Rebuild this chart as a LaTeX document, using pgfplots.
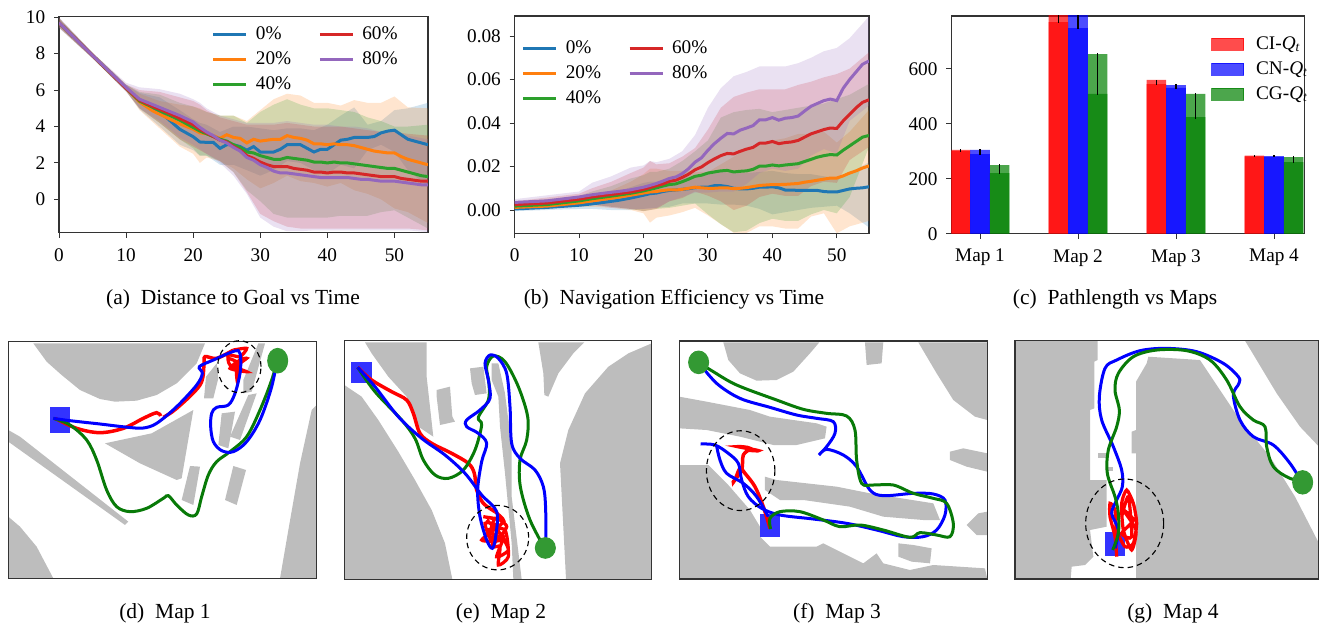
\documentclass[border=0pt]{standalone}
\usepackage{pgfplots}
\usepackage{pgfplotstable}
\usepackage{fontspec}
\setmainfont{Liberation Serif}
\pgfplotsset{compat=1.18}
\definecolor{c0}{HTML}{1F77B4}
\definecolor{c1}{HTML}{FF7F0E}
\definecolor{c2}{HTML}{2CA02C}
\definecolor{c3}{HTML}{D62728}
\definecolor{c4}{HTML}{9467BD}
\definecolor{mapgray}{HTML}{BDBDBD}
\definecolor{framec}{HTML}{333333}
\definecolor{tg}{HTML}{087A08}
\definecolor{goalc}{HTML}{339933}
\newcommand{\tf}{\fontsize{7.7}{9}\selectfont}
\newcommand{\cf}{\fontsize{8.6}{10}\selectfont}
\newcommand{\Qt}{\textit{Q}\textsubscript{\textit{t}}}

\pgfplotstableread{
t m0 m1 m2 m3 m4
0 9.7 9.7 9.7 9.7 9.7
5 7.9 7.9 7.9 7.9 7.9
10 6.1 6.1 6.1 6.1 6.15
12 5.4 5.35 5.4 5.45 5.5
14 5.0 4.85 5.05 5.1 5.2
16 4.5 4.5 4.7 4.8 4.9
18 3.85 4.15 4.35 4.45 4.6
20 3.44 3.85 3.95 4.1 4.25
21 3.15 3.65 3.75 3.85 3.95
22 3.13 3.6 3.6 3.65 3.7
23 3.13 3.5 3.45 3.45 3.5
24 2.8 3.35 3.3 3.25 3.25
25 3.0 3.55 3.2 3.15 3.1
26 3.0 3.4 3.0 2.9 2.85
27 2.9 3.35 2.85 2.7 2.65
28 2.7 3.1 2.6 2.4 2.3
29 2.9 3.3 2.55 2.25 2.15
30 2.6 3.2 2.4 2.05 1.9
31 2.6 3.25 2.3 1.9 1.75
32 2.6 3.3 2.2 1.8 1.55
33 2.75 3.3 2.2 1.8 1.45
34 3.0 3.5 2.3 1.8 1.45
35 3.0 3.4 2.25 1.7 1.4
36 3.0 3.35 2.2 1.65 1.35
37 2.8 3.25 2.15 1.6 1.3
38 2.6 3.05 2.05 1.5 1.25
39 2.75 3.05 2.05 1.5 1.2
40 2.75 3.0 2.0 1.45 1.2
41 3.0 3.05 2.05 1.5 1.2
42 3.25 3.0 2.0 1.5 1.2
43 3.3 3.0 2.0 1.45 1.2
44 3.4 2.95 1.95 1.45 1.15
45 3.4 2.85 1.9 1.4 1.1
46 3.4 2.75 1.85 1.35 1.1
47 3.45 2.65 1.8 1.3 1.05
48 3.65 2.6 1.75 1.25 1.0
49 3.75 2.55 1.7 1.25 1.0
50 3.8 2.55 1.7 1.25 1.0
51 3.55 2.35 1.6 1.15 0.95
52 3.3 2.2 1.5 1.1 0.9
53 3.2 2.1 1.4 1.05 0.85
54 3.1 2.0 1.3 1.0 0.8
55 3.0 1.9 1.25 1.0 0.8
}\mainA

\pgfplotstableread{
t l0 h0 l1 h1 l2 h2 l3 h3 l4 h4
0 9.45 9.95 9.45 9.95 9.45 9.95 9.45 9.95 9.4 10.0
5 7.75 8.05 7.75 8.05 7.75 8.05 7.75 8.05 7.75 8.05
10 5.95 6.3 5.95 6.3 5.95 6.3 5.95 6.3 5.9 6.4
12 4.95 5.85 4.9 5.8 5.0 5.9 5.0 6.0 5.0 6.15
15 4.0 5.6 3.9 5.4 4.2 5.75 4.2 5.9 4.3 6.05
18 3.0 4.9 2.9 5.2 3.3 5.3 3.3 5.6 3.4 5.8
20 2.7 4.4 2.5 5.1 2.8 5.1 2.9 5.4 3.0 5.5
21 2.4 4.2 2.0 5.0 2.4 4.95 2.7 5.2 2.75 5.3
22 2.4 4.1 2.3 4.8 2.4 4.8 2.5 4.9 2.5 5.0
24 1.9 3.7 2.1 4.6 2.1 4.6 2.1 4.5 2.0 4.6
26 1.9 4.0 1.7 4.6 1.5 4.6 1.5 4.3 1.3 4.4
28 1.6 4.0 1.1 4.3 0.5 4.2 0.4 4.1 0.3 4.2
30 1.3 3.9 0.6 4.9 -0.1 4.8 -0.8 4.1 -1.0 4.2
32 1.6 3.8 0.9 5.5 -0.8 5.2 -1.2 4.1 -1.5 4.2
34 2.1 3.9 1.3 5.8 -1.0 5.5 -1.5 4.2 -1.75 4.3
36 2.0 3.9 1.0 5.7 -1.0 5.2 -1.6 4.1 -1.75 4.2
38 1.6 3.8 0.9 5.3 -1.0 5.0 -1.6 4.0 -1.7 4.1
40 1.4 4.1 0.7 5.3 -1.0 5.0 -1.6 4.0 -1.7 4.1
42 1.9 4.6 0.9 5.15 -0.9 4.9 -1.6 4.0 -1.7 4.0
44 1.7 5.05 0.5 5.45 -0.9 4.8 -1.6 3.9 -1.7 4.0
46 2.7 4.1 0.3 5.3 -0.9 4.5 -1.6 3.8 -1.7 3.9
48 3.0 4.3 0.0 5.3 -0.7 4.3 -1.6 3.7 -1.7 3.7
50 2.6 4.9 -0.5 5.65 -0.6 4.0 -1.6 3.7 -1.7 3.7
52 1.6 5.0 -0.7 5.05 -1.0 4.0 -1.6 3.6 -1.7 3.5
55 0.7 5.3 -1.3 5.0 -1.6 4.1 -1.7 3.5 -1.8 3.3
}\bandA

\pgfplotstableread{
t m0 m1 m2 m3 m4
0 0.0005 0.0012 0.0018 0.0025 0.0035
5 0.0012 0.0018 0.0025 0.0032 0.0042
10 0.0022 0.0033 0.0042 0.0050 0.0060
12 0.0028 0.0042 0.0052 0.0060 0.0070
14 0.0036 0.0050 0.0060 0.0068 0.0078
16 0.0044 0.0058 0.0068 0.0075 0.0085
18 0.0055 0.0068 0.0077 0.0083 0.0093
20 0.0068 0.0078 0.0088 0.0095 0.0105
21 0.0075 0.0083 0.0095 0.0103 0.0113
22 0.0078 0.0085 0.0102 0.0112 0.0122
23 0.0085 0.0090 0.0110 0.0120 0.0133
24 0.0090 0.0093 0.0117 0.0132 0.0145
25 0.0092 0.0092 0.0120 0.0137 0.0152
26 0.0095 0.0095 0.0130 0.0150 0.0167
27 0.0098 0.0100 0.0142 0.0165 0.0190
28 0.0103 0.0105 0.0155 0.0185 0.0220
29 0.0105 0.0102 0.0160 0.0198 0.0240
30 0.0105 0.0100 0.0170 0.0218 0.0275
31 0.0112 0.0100 0.0175 0.0235 0.0305
32 0.0112 0.0102 0.0180 0.0250 0.0330
33 0.0108 0.0102 0.0182 0.0260 0.0352
34 0.0100 0.0098 0.0175 0.0258 0.0350
35 0.0097 0.0100 0.0178 0.0270 0.0367
36 0.0097 0.0103 0.0180 0.0280 0.0377
37 0.0100 0.0108 0.0187 0.0288 0.0388
38 0.0105 0.0113 0.0202 0.0307 0.0415
39 0.0105 0.0115 0.0202 0.0308 0.0415
40 0.0107 0.0117 0.0207 0.0315 0.0425
41 0.0102 0.0117 0.0203 0.0305 0.0413
42 0.0092 0.0118 0.0207 0.0310 0.0422
43 0.0092 0.0120 0.0210 0.0313 0.0425
44 0.0090 0.0122 0.0213 0.0320 0.0432
45 0.0090 0.0128 0.0223 0.0335 0.0455
46 0.0090 0.0132 0.0233 0.0350 0.0477
47 0.0090 0.0137 0.0243 0.0360 0.0490
48 0.0085 0.0142 0.0250 0.0370 0.0503
49 0.0083 0.0147 0.0255 0.0377 0.0510
50 0.0083 0.0147 0.0253 0.0375 0.0503
51 0.0090 0.0157 0.0275 0.0410 0.0560
52 0.0097 0.0170 0.0295 0.0440 0.0600
53 0.0100 0.0180 0.0315 0.0470 0.0635
54 0.0102 0.0193 0.0335 0.0495 0.0670
55 0.0107 0.0203 0.0343 0.0507 0.0685
}\mainB

\pgfplotstableread{
t l0 h0 l1 h1 l2 h2 l3 h3 l4 h4
0 -0.0005 0.0015 0.0000 0.0025 0.0005 0.0035 0.0010 0.0040 0.0020 0.0050
10 0.0005 0.0040 0.0015 0.0055 0.0025 0.0065 0.0030 0.0075 0.0035 0.0085
12 0.0005 0.0050 0.0015 0.0070 0.0025 0.0085 0.0025 0.0100 0.0025 0.0125
15 0.0000 0.0075 0.0010 0.0090 0.0015 0.0110 0.0015 0.0130 0.0010 0.0155
18 0.0000 0.0105 0.0000 0.0130 0.0005 0.0145 0.0005 0.0170 0.0005 0.0195
20 0.0005 0.0125 -0.0015 0.0165 -0.0005 0.0160 -0.0005 0.0195 0.0005 0.0205
21 0.0010 0.0130 -0.0058 0.0190 0.0000 0.0175 0.0000 0.0225 0.0005 0.0225
22 0.0010 0.0130 -0.0035 0.0190 0.0005 0.0175 0.0005 0.0210 0.0010 0.0220
24 0.0015 0.0135 -0.0025 0.0180 0.0010 0.0190 0.0040 0.0215 0.0040 0.0235
26 0.0030 0.0145 -0.0010 0.0180 0.0020 0.0225 0.0055 0.0245 0.0060 0.0270
28 0.0030 0.0160 0.0010 0.0175 0.0030 0.0270 0.0085 0.0285 0.0080 0.0345
30 0.0030 0.0170 -0.0025 0.0175 -0.0020 0.0320 0.0066 0.0370 0.0080 0.0470
32 0.0025 0.0175 -0.0065 0.0210 -0.0065 0.0425 0.0040 0.0470 0.0085 0.0560
34 0.0025 0.0170 -0.0105 0.0245 -0.0102 0.0450 0.0000 0.0520 0.0085 0.0615
36 0.0020 0.0170 -0.0105 0.0280 -0.0095 0.0460 0.0020 0.0540 0.0120 0.0635
38 0.0005 0.0175 -0.0075 0.0300 -0.0060 0.0465 0.0060 0.0555 0.0170 0.0660
40 -0.0020 0.0180 -0.0075 0.0320 -0.0040 0.0450 0.0075 0.0555 0.0190 0.0660
42 -0.0010 0.0170 -0.0085 0.0330 -0.0050 0.0460 0.0065 0.0555 0.0180 0.0660
44 0.0000 0.0165 -0.0085 0.0350 -0.0050 0.0470 0.0065 0.0575 0.0190 0.0675
46 0.0010 0.0165 -0.0030 0.0350 -0.0020 0.0480 0.0110 0.0590 0.0250 0.0700
48 0.0015 0.0155 -0.0015 0.0360 0.0000 0.0490 0.0130 0.0610 0.0280 0.0730
50 0.0020 0.0145 -0.0107 0.0310 -0.0015 0.0510 0.0125 0.0625 0.0260 0.0745
52 -0.0015 0.0170 -0.0075 0.0360 0.0060 0.0530 0.0230 0.0650 0.0410 0.0790
55 -0.0080 0.0220 -0.0050 0.0460 0.0290 0.0580 0.0290 0.0725 0.0480 0.0890
}\bandB

% the bands as closed outlines: the rows forward (upper edge), then backward (lower edge)
\pgfplotstablesort[sort key=t, sort cmp=float >]{\revA}{\bandA}
\pgfplotstablesort[sort key=t, sort cmp=float >]{\revB}{\bandB}
\pgfplotstablevertcat{\polyA}{\bandA}
\pgfplotstablevertcat{\polyA}{\revA}
\pgfplotstablevertcat{\polyB}{\bandB}
\pgfplotstablevertcat{\polyB}{\revB}

\pgfplotsset{
  panel/.style={scale only axis, clip=true, axis line style={framec,line width=0.45pt},
    tick style={framec,line width=0.4pt}, major tick length=2pt,
    tick align=outside, xtick pos=lower, ytick pos=left,
    ticklabel style={font=\tf}, xticklabel style={yshift=-0.7pt},
    /pgf/number format/assume math mode=true},
  linelegend/.style={legend columns=2, legend cell align=left,
    legend style={draw=none, fill=none, inner sep=0pt, outer sep=0pt, font=\tf,
      nodes={text height=5.4pt, text depth=1.4pt, inner sep=0pt},
      /tikz/row sep=3.2pt, /tikz/column sep=0pt,
      /tikz/every even column/.append style={column sep=10.8pt},
      /tikz/every odd column/.append style={column sep=3.2pt}},
    legend image code/.code={\draw[##1,line width=1.2pt] (0pt,0pt) -- (13.2pt,0pt);}},
  mapaxis/.style={scale only axis, y dir=reverse, xtick=\empty, ytick=\empty,
    axis line style={framec,line width=0.45pt}, clip=true, axis on top},
  obs/.style={fill=mapgray, draw=none, forget plot},
  tb/.style={blue, line width=1.2pt, smooth, tension=0.55, mark=none},
  tgg/.style={tg, line width=1.2pt, smooth, tension=0.55, mark=none},
  tr/.style={red, line width=1.4pt, smooth, tension=0.55, mark=none},
  trk/.style={red, line width=1.3pt, smooth, tension=0.4, mark=none},
  startbox/.style={fill=blue, fill opacity=0.8, draw=none},
  goal/.style={only marks, mark=*, goalc, mark options={fill=goalc, draw=goalc, #1}},
  dashring/.style={only marks, mark=o, mark options={draw=black, line width=0.45pt, dash pattern=on 2.2pt off 1.6pt, #1}},
}

\begin{document}
\begin{tikzpicture}
\useasboundingbox (0,0) rectangle (527.6pt,249.2pt);

% ---------------- (a)
\begin{axis}[panel, at={(23.6pt,156.12pt)}, anchor=south west, width=147.6pt, height=86.4pt,
  xmin=0, xmax=55, ymin=-1.83, ymax=10.03, xtick={0,10,...,50}, ytick={0,2,...,10},
  linelegend, legend style={at={(0.4146,0.955)}, anchor=north west}]
\pgfplotsinvokeforeach{0,...,4}{
  \addplot[fill=c#1,fill opacity=.2,draw=none,forget plot] table[x=t,y expr={\coordindex<25 ? \thisrow{h#1} : \thisrow{l#1}}]{\polyA} --cycle;
}
\pgfplotsinvokeforeach{0,...,4}{
  \addplot[c#1,line width=1.2pt,forget plot] table[x=t,y=m#1]{\mainA};
}
\addlegendimage{c0}\addlegendentry{0\%}
\addlegendimage{c3}\addlegendentry{60\%}
\addlegendimage{c1}\addlegendentry{20\%}
\addlegendimage{c4}\addlegendentry{80\%}
\addlegendimage{c2}\addlegendentry{40\%}
\end{axis}

% ---------------- (b)
\begin{axis}[panel, at={(205.88pt,155.88pt)}, anchor=south west, width=141.72pt, height=86.92pt,
  xmin=0, xmax=55, ymin=-0.0107, ymax=0.0892, xtick={0,10,...,50}, ytick={0,0.02,0.04,0.06,0.08},
  yticklabel style={/pgf/number format/.cd, fixed, fixed zerofill, precision=2},
  scaled y ticks=false,
  linelegend, legend style={at={(0.02,0.89)}, anchor=north west}]
\pgfplotsinvokeforeach{0,...,4}{
  \addplot[fill=c#1,fill opacity=.2,draw=none,forget plot] table[x=t,y expr={\coordindex<24 ? \thisrow{h#1} : \thisrow{l#1}}]{\polyB} --cycle;
}
\pgfplotsinvokeforeach{0,...,4}{
  \addplot[c#1,line width=1.2pt,forget plot] table[x=t,y=m#1]{\mainB};
}
\addlegendimage{c0}\addlegendentry{0\%}
\addlegendimage{c3}\addlegendentry{60\%}
\addlegendimage{c1}\addlegendentry{20\%}
\addlegendimage{c4}\addlegendentry{80\%}
\addlegendimage{c2}\addlegendentry{40\%}
\end{axis}

% ---------------- (c)
\begin{axis}[panel, at={(380.52pt,155.72pt)}, anchor=south west, width=141.2pt, height=87.08pt,
  xmin=-0.293, xmax=3.309, ymin=0, ymax=793, xtick={0,1,2,3},
  xticklabels={Map 1,Map 2,Map 3,Map 4}, ytick={0,200,400,600},
  legend cell align=left,
  legend style={draw=none, fill=none, inner sep=0pt, outer sep=0pt, font=\tf,
    nodes={text height=5.4pt, text depth=1.4pt, inner sep=0pt},
    at={(0.736,0.91)}, anchor=north west, /tikz/row sep=3.2pt,
    /tikz/every odd column/.append style={column sep=4.8pt}}]
\addplot[ybar,bar width=0.2,bar shift=0pt,fill=red,fill opacity=.7,draw=none,forget plot] coordinates {(-0.2,305)(0.8,800)(1.8,560)(2.8,284)};
\addplot[ybar,bar width=0.2,bar shift=0pt,fill=blue,fill opacity=.7,draw=none,forget plot] coordinates {(0,305)(1,800)(2,541)(3,283)};
\addplot[ybar,bar width=0.2,bar shift=0pt,fill=green!50!black,fill opacity=.7,draw=none,forget plot] coordinates {(0.2,250)(1.2,654)(2.2,509)(3.2,279)};
\addplot[ybar,bar width=0.2,bar shift=0pt,fill=red,fill opacity=.7,draw=none,forget plot] coordinates {(-0.2,301)(0.8,771)(1.8,545)(2.8,282)};
\addplot[ybar,bar width=0.2,bar shift=0pt,fill=blue,fill opacity=.7,draw=none,forget plot] coordinates {(0,290)(1,749)(2,531)(3,279)};
\addplot[ybar,bar width=0.2,bar shift=0pt,fill=green!50!black,fill opacity=.7,draw=none,forget plot] coordinates {(0.2,221)(1.2,509)(2.2,425)(3.2,261)};
\addplot[draw=none,mark=none,forget plot,error bars/.cd,y dir=both,y explicit,error mark=none,error bar style={black,line width=0.55pt}]
 coordinates {(-0.2,303)+-(0,5) (0.8,790)+-(0,21) (1.8,551)+-(0,9) (2.8,282.5)+-(0,2.5)
   (0,296.5)+-(0,11.5) (1,780)+-(0,33) (2,536)+-(0,9) (3,281.5)+-(0,3.5)
   (0.2,235)+-(0,19) (1.2,581)+-(0,76) (2.2,465)+-(0,46) (3.2,269.5)+-(0,13.5)};
\addlegendimage{legend image code/.code={\fill[red,opacity=.7] (0pt,-2.4pt) rectangle (12.8pt,2.4pt);}}
\addlegendentry{CI-\Qt}
\addlegendimage{legend image code/.code={\fill[blue,opacity=.7] (0pt,-2.4pt) rectangle (12.8pt,2.4pt);}}
\addlegendentry{CN-\Qt}
\addlegendimage{legend image code/.code={\fill[green!50!black,opacity=.7] (0pt,-2.4pt) rectangle (12.8pt,2.4pt);}}
\addlegendentry{CG-\Qt}
\end{axis}

% ---------------- (d) Map 1
\begin{axis}[mapaxis, at={(3.32pt,17.88pt)}, anchor=south west, width=123.36pt, height=94.64pt,
  xmin=25, xmax=950, ymin=35, ymax=745]
\addplot[obs] coordinates {(100,40)(615,40)(590,100)(530,160)(470,195)(410,212)(345,215)(300,207)(240,180)(185,135)(140,95)} --cycle;
\addplot[obs] coordinates {(612,205)(618,140)(650,100)(655,145)(640,205)} --cycle;
\addplot[obs] coordinates {(665,250)(705,245)(685,355)(655,345)} --cycle;
\addplot[obs] coordinates {(690,320)(745,195)(770,190)(720,330)} --cycle;
\addplot[obs] coordinates {(730,150)(775,40)(795,40)(755,185)(730,190)} --cycle;
\addplot[obs] coordinates {(315,340)(455,310)(580,240)(545,445)(530,450)(420,400)} --cycle;
\addplot[obs] coordinates {(570,408)(600,410)(580,525)(545,510)} --cycle;
\addplot[obs] coordinates {(700,408)(738,420)(710,525)(675,510)} --cycle;
\addplot[obs] coordinates {(25,300)(60,320)(385,575)(375,585)(25,335)} --cycle;
\addplot[obs] coordinates {(25,560)(60,590)(110,650)(160,745)(25,745)} --cycle;
\addplot[obs] coordinates {(950,225)(950,745)(840,745)(865,600)(900,400)(935,240)} --cycle;
\addplot[startbox,forget plot] coordinates {(150,232)(210,232)(210,310)(150,310)} --cycle;
\addplot[goal={yscale=1.23},mark size=4pt,forget plot] coordinates {(833,92)};
\addplot[dashring={yscale=1.2},mark size=8.67pt,forget plot] coordinates {(718,110)};
\addplot[tr,forget plot] coordinates {(165,265)(230,295)(300,308)(370,295)(430,265)(470,248)(482,258)};
\addplot[tr,forget plot] coordinates {(490,262)(530,235)(600,165)(612,105)(615,80)(650,85)(700,60)};
\addplot[trk,forget plot] coordinates {(700,60)(740,55)(720,80)(685,75)(690,105)(740,125)(690,115)(720,90)(740,85)(710,110)(712,155)(715,100)(685,85)};
\addplot[tgg,forget plot] coordinates {(160,265)(210,285)(260,330)(290,390)(320,480)(350,530)(390,545)(440,535)(490,505)(505,497)(530,525)(565,555)(590,552)(605,500)(625,435)(650,395)(690,365)(740,320)(780,240)(815,150)(838,70)};
\addplot[tb,forget plot] coordinates {(160,265)(210,272)(300,282)(385,292)(430,294)(470,280)(530,230)(590,165)(607,130)(598,110)(640,90)(690,68)(715,62)(722,85)(720,130)(705,190)(685,225)(650,232)(635,250)(632,290)(640,335)(665,362)(700,365)(740,335)(780,270)(815,170)(835,70)};
\end{axis}

% ---------------- (e) Map 2
\begin{axis}[mapaxis, at={(137.72pt,17.48pt)}, anchor=south west, width=122.96pt, height=95.44pt,
  xmin=28, xmax=950, ymin=32, ymax=748]
\addplot[obs] coordinates {(28,165)(80,200)(130,270)(190,365)(240,450)(290,540)(330,640)(352,748)(28,748)} --cycle;
\addplot[obs] coordinates {(90,37)(275,37)(275,140)(295,320)(250,290)(215,200)(160,140)(110,70)} --cycle;
\addplot[obs] coordinates {(305,180)(345,170)(352,260)(360,275)(315,285)(305,200)} --cycle;
\addplot[obs] coordinates {(405,115)(445,110)(455,190)(420,195)(410,160)} --cycle;
\addplot[obs] coordinates {(470,100)(490,100)(510,190)(530,350)(530,500)(560,748)(535,748)(530,640)(510,430)(495,290)(490,200)(470,150)} --cycle;
\addplot[obs] coordinates {(610,37)(748,37)(715,70)(670,130)(640,200)(628,195)(625,130)} --cycle;
\addplot[obs] coordinates {(950,40)(880,70)(820,110)(750,190)(700,300)(675,400)(693,748)(950,748)} --cycle;
\addplot[startbox,forget plot] coordinates {(48,97)(110,97)(110,158)(48,158)} --cycle;
\addplot[goal={yscale=1.03},mark size=4pt,forget plot] coordinates {(631,654)};
\addplot[dashring={yscale=1.04},mark size=12.4pt,forget plot] coordinates {(488,623)};
\addplot[tr,forget plot] coordinates {(68,112)(110,150)(170,185)(215,210)(235,250)(255,310)(290,340)(350,370)(400,400)(418,430)(425,480)(445,520)(480,545)};
\addplot[trk,forget plot] coordinates {(480,545)(505,570)(445,560)(505,575)(440,630)(500,630)(460,600)(510,600)(520,680)(490,705)(495,650)(470,650)(490,590)(450,580)(475,640)(515,590)(480,565)(465,620)(505,620)(485,680)(520,660)(495,610)(455,570)};
\addplot[tgg,forget plot] coordinates {(68,112)(120,185)(200,270)(240,325)(265,390)(300,435)(340,445)(385,420)(420,360)(440,285)(430,262)(460,210)(462,160)(455,110)(475,78)(510,95)(550,170)(578,260)(575,330)(555,390)(556,470)(585,570)(632,660)};
\addplot[tb,forget plot] coordinates {(68,112)(120,170)(190,260)(260,325)(330,375)(390,430)(440,495)(485,545)(482,620)(472,655)(455,630)(435,560)(428,480)(440,395)(455,340)(430,310)(395,290)(395,270)(435,240)(465,205)(460,150)(450,100)(465,75)(490,85)(515,130)(525,230)(530,340)(555,385)(600,420)(625,470)(632,540)(632,660)};
\end{axis}

% ---------------- (f) Map 3
\begin{axis}[mapaxis, at={(271.72pt,17.6pt)}, anchor=south west, width=123.2pt, height=95.2pt,
  xmin=28, xmax=952, ymin=33, ymax=747]
\addplot[obs] coordinates {(160,37)(448,37)(420,70)(370,125)(320,150)(260,152)(210,130)(175,90)} --cycle;
\addplot[obs] coordinates {(585,37)(640,37)(635,100)(590,105)} --cycle;
\addplot[obs] coordinates {(745,37)(952,37)(952,270)(915,260)(850,210)(800,130)} --cycle;
\addplot[obs] coordinates {(28,200)(110,215)(240,240)(300,260)(440,280)(470,290)(465,325)(380,345)(310,345)(210,320)(110,300)(28,295)} --cycle;
\addplot[obs] coordinates {(28,405)(115,405)(175,465)(240,540)(270,590)(270,620)(300,650)(440,650)(460,640)(500,660)(580,700)(620,670)(640,700)(720,720)(790,705)(945,715)(952,747)(28,747)} --cycle;
\addplot[obs] coordinates {(285,440)(320,450)(500,470)(600,490)(790,520)(810,570)(760,570)(640,560)(540,530)(400,510)(330,510)(285,480)} --cycle;
\addplot[obs] coordinates {(840,365)(880,355)(952,370)(952,425)(890,410)(840,390)} --cycle;
\addplot[obs] coordinates {(890,585)(925,550)(952,545)(952,615)(920,615)} --cycle;
\addplot[obs] coordinates {(685,640)(730,645)(785,655)(780,700)(725,695)(685,680)} --cycle;
\addplot[startbox,forget plot] coordinates {(271,552)(331,552)(331,622)(271,622)} --cycle;
\addplot[goal={yscale=1.13},mark size=4pt,forget plot] coordinates {(86,97)};
\addplot[dashring={yscale=1.165},mark size=13.7pt,forget plot] coordinates {(212,422)};
\addplot[tr,forget plot] coordinates {(300,595)(280,530)(255,470)(225,430)(210,415)(195,450)(190,455)(215,420)(220,375)(240,355)(205,350)(265,362)(225,360)};
\addplot[tb,forget plot] coordinates {(140,348)(150,390)(170,430)(220,460)(260,500)(295,560)};
\addplot[tb,forget plot] coordinates {(92,342)(135,345)(175,370)(205,400)(215,450)(235,500)(275,535)(330,555)(430,567)(530,580)(620,600)(700,620)(760,620)(800,600)(825,555)(825,510)(790,492)(730,490)(640,497)(600,480)(560,410)(520,375)(470,358)(447,375)(470,350)(495,310)(490,275)(440,265)(380,255)(300,232)(210,205)(140,160)(86,97)};
\addplot[tgg,forget plot] coordinates {(302,597)(300,565)(330,545)(390,545)(460,570)(510,590)(570,585)(640,600)(720,622)(750,608)(800,615)(840,620)(850,580)(830,520)(790,505)(730,490)(670,465)(610,465)(575,460)(560,390)(555,300)(530,258)(470,250)(400,238)(320,210)(200,165)(130,125)(86,97)};
\end{axis}

% ---------------- (g) Map 4
\begin{axis}[mapaxis, at={(406pt,17.6pt)}, anchor=south west, width=121.6pt, height=95.32pt,
  xmin=45, xmax=957, ymin=32, ymax=747]
\addplot[obs] coordinates {(45,32)(293,32)(293,90)(283,95)(283,235)(270,240)(270,450)(320,450)(320,590)(270,600)(280,680)(255,705)(215,710)(212,747)(45,747)} --cycle;
\addplot[obs] coordinates {(445,80)(600,90)(640,150)(680,210)(720,270)(810,380)(885,500)(957,640)(957,747)(408,747)(408,370)(395,370)(395,305)(408,300)(408,155)(440,100)} --cycle;
\addplot[obs] coordinates {(735,32)(957,32)(957,350)(900,290)(830,190)} --cycle;
\addplot[obs] coordinates {(293,370)(317,370)(317,383)(293,383)} --cycle;
\addplot[obs] coordinates {(325,410)(340,410)(340,422)(325,422)} --cycle;
\addplot[startbox,forget plot] coordinates {(316,607)(375,607)(375,677)(316,677)} --cycle;
\addplot[goal={yscale=1.17},mark size=4pt,forget plot] coordinates {(908,457)};
\addplot[dashring={yscale=1.137},mark size=15.6pt,forget plot] coordinates {(374,580)};
\addplot[trk,forget plot] coordinates {(350,680)(345,620)(330,560)(330,520)(345,540)(350,600)(375,650)(400,640)(410,580)(400,520)(380,480)(365,520)(370,600)(395,660)(408,600)(370,540)(400,570)(365,610)(395,620)(385,500)(365,560)};
\addplot[tb,forget plot] coordinates {(345,655)(355,600)(335,550)(350,510)(367,470)(365,420)(340,350)(305,270)(298,200)(315,115)(350,90)(420,62)(500,55)(590,65)(670,100)(715,140)(717,160)(700,195)(720,270)(760,320)(820,345)(870,400)(908,460)};
\addplot[tgg,forget plot] coordinates {(338,660)(355,610)(355,550)(345,500)(322,430)(325,360)(350,290)(358,240)(345,180)(355,130)(400,80)(470,60)(560,62)(630,90)(680,150)(720,230)(760,270)(795,290)(800,350)(820,410)(870,445)(935,460)};
\end{axis}

% ---------------- captions
\node[font=\cf] at (93.2pt,129.4pt) {(a)\ \ Distance to Goal vs Time};
\node[font=\cf] at (269.6pt,129.4pt) {(b)\ \ Navigation Efficiency vs Time};
\node[font=\cf] at (446pt,129.4pt) {(c)\ \ Pathlength vs Maps};
\node[font=\cf] at (66pt,3.8pt) {(d)\ \ Map 1};
\node[font=\cf] at (200.4pt,3.8pt) {(e)\ \ Map 2};
\node[font=\cf] at (334.8pt,3.8pt) {(f)\ \ Map 3};
\node[font=\cf] at (469.2pt,3.8pt) {(g)\ \ Map 4};
\end{tikzpicture}
\end{document}
